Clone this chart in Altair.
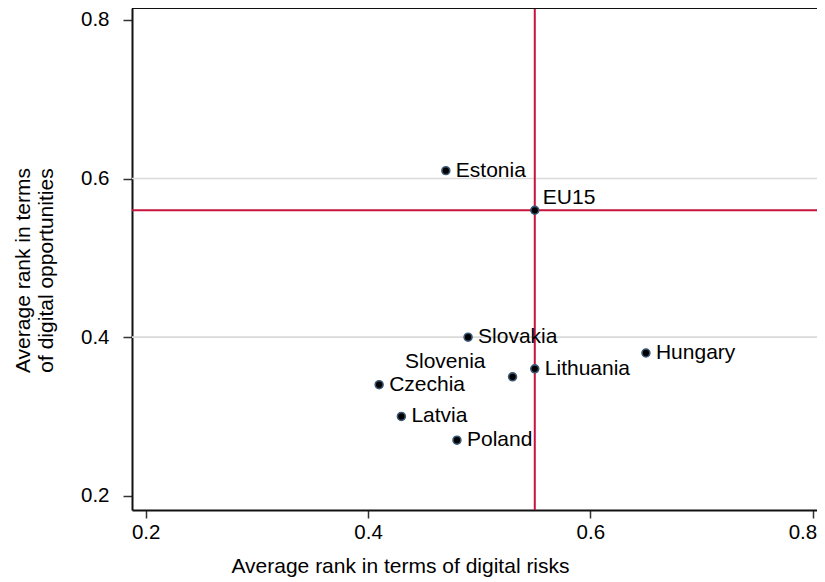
import altair as alt
import pandas as pd

# ---- data ----
countries = ["Estonia", "EU15", "Slovakia", "Hungary", "Lithuania",
             "Slovenia", "Czechia", "Latvia", "Poland"]
risk_rank = [0.47, 0.55, 0.49, 0.65, 0.55, 0.53, 0.41, 0.43, 0.48]
opp_rank = [0.61, 0.56, 0.40, 0.38, 0.36, 0.35, 0.34, 0.30, 0.27]
x_ticks = [0.2, 0.4, 0.6, 0.8]
y_ticks = [0.2, 0.4, 0.6, 0.8]
grid_values = [0.4, 0.6]
ref_x = [0.55]   # EU15 risk rank
ref_y = [0.56]   # EU15 opportunities rank

FONT = "Liberation Sans"
W, H = 685, 502
X_DOMAIN = [0.18768, 0.80387]
Y_DOMAIN = [0.182, 0.8151]

df = pd.DataFrame({"country": countries, "risk": risk_rank, "opp": opp_rank})
grid_df = pd.DataFrame({"g": grid_values})
rx_df = pd.DataFrame({"rx": ref_x})
ry_df = pd.DataFrame({"ry": ref_y})

xscale = alt.Scale(domain=X_DOMAIN, nice=False, zero=False)
yscale = alt.Scale(domain=Y_DOMAIN, nice=False, zero=False)

x_axis = alt.Axis(
    values=x_ticks, format=".1f", grid=False,
    labelFont=FONT, labelFontSize=20.5, labelColor="#000000", labelPadding=4,
    labelFlush=6, labelFlushOffset=4,
    tickSize=8, tickWidth=1.5, tickColor="#333333",
    domainColor="#111111", domainWidth=2,
    title="Average rank in terms of digital risks",
    titleFont=FONT, titleFontSize=21, titleFontWeight="normal", titleColor="#000000",
    titleX=268, titleY=45, titleBaseline="top", titleAlign="center",
)
y_axis = alt.Axis(
    values=y_ticks, format=".1f", grid=False,
    labelFont=FONT, labelFontSize=20.5, labelColor="#000000", labelPadding=14,
    tickSize=9, tickWidth=1.5, tickColor="#333333",
    domainColor="#111111", domainWidth=2,
    title=["Average rank in terms", "of digital opportunities"],
    titleFont=FONT, titleFontSize=21, titleFontWeight="normal", titleColor="#000000",
    titleAngle=270, titleX=-120, titleY=262, titleBaseline="top", titleAlign="center",
    titleLineHeight=23,
)

grid = alt.Chart(grid_df).mark_rule(color="#dadada", strokeWidth=1.6).encode(
    y=alt.Y("g:Q", scale=yscale, axis=y_axis)
)

top_frame = alt.Chart(grid_df).mark_rule(color="#111111", strokeWidth=2).encode(
    x=alt.value(0), x2=alt.value(W), y=alt.value(0)
)

vline = alt.Chart(rx_df).mark_rule(color="#c8133d", strokeWidth=2).encode(
    x=alt.X("rx:Q", scale=xscale, axis=x_axis)
)
hline = alt.Chart(ry_df).mark_rule(color="#c8133d", strokeWidth=2).encode(
    y=alt.Y("ry:Q", scale=yscale)
)

base = alt.Chart(df).encode(
    x=alt.X("risk:Q", scale=xscale),
    y=alt.Y("opp:Q", scale=yscale),
)

points = base.mark_point(filled=True, fill="#000000", stroke="#3b5876",
                         strokeWidth=1.6, size=62, opacity=1)

label_style = dict(font=FONT, fontSize=21, color="#000000", baseline="middle")

labels_main = base.transform_filter(
    (alt.datum.country != "EU15") & (alt.datum.country != "Slovenia")
).mark_text(align="left", dx=10, **label_style).encode(text="country:N")

label_eu = base.transform_filter(alt.datum.country == "EU15").mark_text(
    align="left", dx=8, dy=-12, **label_style).encode(text="country:N")

label_si = base.transform_filter(alt.datum.country == "Slovenia").mark_text(
    align="right", dx=-27, dy=-15, **label_style).encode(text="country:N")

chart = alt.layer(
    grid, vline, hline, top_frame, points, labels_main, label_eu, label_si
).properties(
    width=W, height=H,
    autosize=alt.AutoSizeParams(type="none"),
    padding={"left": 124, "top": 0, "right": 0, "bottom": 68},
).configure_view(stroke=None).configure(background="#ffffff")

chart.save("out.html", embed_options={"renderer": "svg", "actions": False})
